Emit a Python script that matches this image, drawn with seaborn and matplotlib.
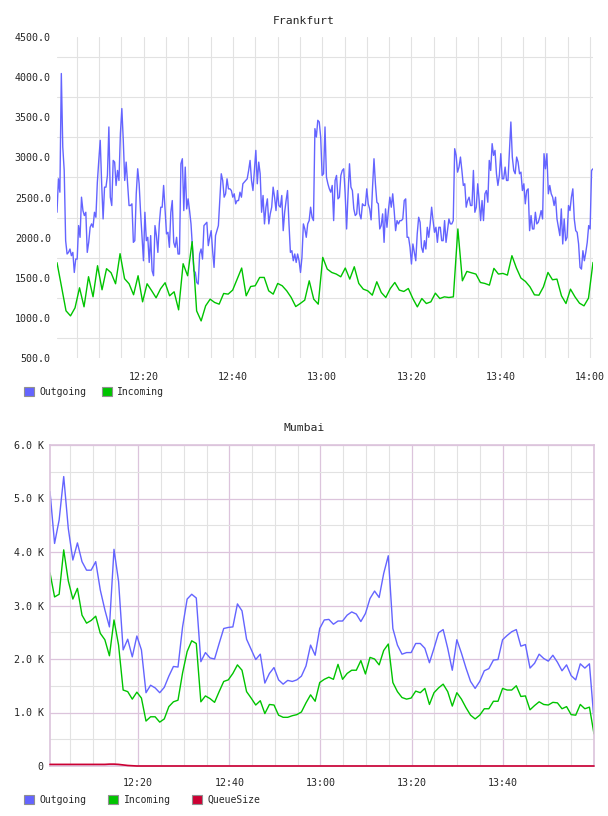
import numpy as np
import pandas as pd
import matplotlib
matplotlib.use("Agg")
import matplotlib.pyplot as plt
from matplotlib.patches import Patch
from matplotlib.ticker import FuncFormatter
import seaborn as sns

# Frankfurt traffic (bytes/s), outgoing is sampled ~every 20 s, incoming every minute
frankfurt_out = [
    2316, 2733, 2566, 4045, 3129, 2837, 1962, 1796, 1816, 1858,
    1775, 1816, 1566, 1733, 1733, 2150, 2004, 2504, 2337, 2275,
    2316, 1816, 1941, 2129, 2171, 2129, 2316, 2254, 2691, 2962,
    3212, 2671, 2233, 2629, 2629, 2775, 3379, 2504, 2400, 2962,
    2941, 2650, 2837, 2712, 3296, 3608, 3212, 2712, 2941, 2671,
    2400, 2400, 2421, 1941, 1962, 2546, 2858, 2671, 2316, 2004,
    1712, 2316, 1962, 2004, 1691, 2025, 1587, 1525, 2150, 2025,
    1816, 2171, 2379, 2379, 2650, 2358, 2046, 2066, 1879, 2316,
    2462, 1941, 1879, 2004, 1796, 1796, 2920, 2983, 2337, 2879,
    2358, 2483, 2337, 2171, 1879, 1587, 1566, 1441, 1421,
    1796, 1858, 1733, 2150, 2171, 2191, 1900, 2004, 2087, 1837,
    1629, 2025, 2087, 2150, 2462, 2796, 2712, 2504, 2546, 2733,
    2608, 2608, 2587, 2504, 2546, 2421, 2462, 2462, 2566, 2504,
    2671, 2691, 2712, 2733, 2837, 2962, 2712, 2587, 2837, 3087,
    2671, 2941, 2796, 2316, 2525, 2171, 2379, 2483, 2171, 2296,
    2379, 2629, 2504, 2337, 2587, 2400, 2379, 2525, 2087, 2316,
    2462, 2587, 2171, 1816, 1837, 1712, 1796, 1691, 1796, 1712,
    1566, 1754, 2171, 2108, 2004, 2171, 2212, 2379, 2254, 2212,
    3358, 3254, 3462, 3441,
    3254, 2775, 2796, 3379, 2754, 2671, 2608, 2566, 2650, 2212,
    2712, 2775, 2483, 2504, 2775, 2837, 2858, 2546, 2108, 2546,
    2920, 2629, 2587, 2358, 2275, 2296, 2546, 2296, 2233, 2421,
    2400, 2400, 2608, 2421, 2358, 2221, 2629, 2983, 2671, 2441,
    2421, 2108, 2150, 2296, 1941, 2358, 2129, 2337, 2504, 2379,
    2546, 2337, 2087, 2212, 2171, 2212, 2212, 2233, 2462, 2483,
    2004, 2004, 1879, 1671, 1921, 1816, 1712, 2046, 2254, 2191,
    1879, 1816, 1962, 1858, 2129, 2004, 2171, 2379, 2212, 2066,
    2129, 1941, 2129, 2129, 1962, 1962, 2212, 1941, 2087, 2233,
    2171, 2171, 2212, 3108,
    3025, 2816, 2879, 3004, 2837, 2650, 2671, 2379, 2462, 2504,
    2400, 2400, 2837, 2316, 2379, 2671, 2462, 2212, 2462, 2212,
    2546, 2587, 2441, 2962, 2837, 3171, 3025, 3087, 2796, 2650,
    2775, 3046, 2733, 2733, 2879, 2712, 2712, 3066, 3441, 3004,
    2837, 2796, 3004, 2941, 2796, 2816, 2587, 2671, 2421, 2587,
    2608, 2087, 2275, 2108, 2108, 2316, 2171, 2191, 2254, 2337,
    2233, 3046, 2858, 3046, 2546, 2650, 2546, 2504, 2400, 2504,
    2233, 2129, 2025, 2358, 1921, 2233, 1962, 2004, 2400, 2337,
    2504, 2608, 2233, 2087, 2066, 1921, 1629, 1608, 1837, 1712,
    1816, 1941, 2150, 2108, 2837, 2858,
]
frankfurt_in = [
    1688, 1390, 1088, 1025, 1125, 1375, 1138, 1513, 1263, 1650,
    1350, 1613, 1563, 1425, 1800, 1488, 1425, 1288, 1525, 1200,
    1425, 1340, 1250, 1363, 1438, 1275, 1325, 1100, 1675, 1525,
    1950, 1087, 962, 1150, 1233, 1192, 1171, 1304, 1296, 1346,
    1483, 1621, 1275, 1391, 1400, 1504, 1504, 1337, 1296, 1429,
    1400, 1337, 1254, 1141, 1179, 1221, 1462, 1233, 1171, 1754,
    1608, 1566, 1546, 1512, 1621, 1483, 1637, 1429, 1358, 1337,
    1283, 1450, 1316, 1254, 1366, 1441, 1346, 1329, 1366, 1241,
    1137, 1241, 1179, 1200, 1308, 1241, 1262, 1254, 1262, 2108,
    1462, 1579, 1562, 1546, 1441, 1429, 1408, 1617, 1546, 1554,
    1533, 1775, 1621, 1496, 1454, 1387, 1287, 1283, 1387, 1566,
    1475, 1483, 1275, 1179, 1358, 1262, 1183, 1150, 1246, 1691,
]

# Mumbai traffic, in thousands, one sample per minute
mumbai_out_k = [
    5.13, 4.16, 4.60, 5.41, 4.44, 3.85, 4.17, 3.82, 3.66, 3.66,
    3.82, 3.29, 2.92, 2.60, 4.05, 3.45, 2.17, 2.37, 2.04, 2.43,
    2.17, 1.37, 1.51, 1.46, 1.37, 1.47, 1.68, 1.86, 1.85, 2.60,
    3.12, 3.21, 3.14, 1.95, 2.12, 2.02, 2.00, 2.29, 2.57, 2.59,
    2.60, 3.03, 2.90, 2.37, 2.18, 1.99, 2.09, 1.55, 1.73, 1.84,
    1.61, 1.53, 1.60, 1.58, 1.61, 1.68, 1.87, 2.26, 2.07, 2.57,
    2.73, 2.74, 2.65, 2.71, 2.71, 2.82, 2.88, 2.84, 2.70, 2.85,
    3.13, 3.27, 3.15, 3.60, 3.93, 2.57, 2.26, 2.09, 2.12, 2.12,
    2.29, 2.29, 2.20, 1.93, 2.20, 2.49, 2.55, 2.20, 1.79, 2.36,
    2.11, 1.83, 1.58, 1.45, 1.58, 1.78, 1.82, 1.98, 1.99, 2.36,
    2.44, 2.51, 2.55, 2.24, 2.27, 1.83, 1.92, 2.09, 2.01, 1.96,
    2.07, 1.94, 1.78, 1.89, 1.69, 1.61, 1.91, 1.83, 1.91, 0.86,
]
mumbai_in_k = [
    3.61, 3.16, 3.21, 4.04, 3.46, 3.12, 3.32, 2.82, 2.67, 2.72,
    2.80, 2.48, 2.36, 2.06, 2.73, 2.26, 1.42, 1.39, 1.25, 1.38,
    1.27, 0.84, 0.92, 0.92, 0.82, 0.88, 1.11, 1.20, 1.23, 1.74,
    2.14, 2.34, 2.29, 1.20, 1.31, 1.26, 1.19, 1.39, 1.58, 1.61,
    1.73, 1.89, 1.79, 1.39, 1.27, 1.14, 1.22, 0.98, 1.15, 1.14,
    0.95, 0.91, 0.91, 0.94, 0.96, 1.01, 1.18, 1.33, 1.21, 1.56,
    1.62, 1.66, 1.62, 1.90, 1.62, 1.73, 1.79, 1.79, 1.97, 1.72,
    2.03, 2.00, 1.89, 2.16, 2.28, 1.56, 1.39, 1.28, 1.25, 1.27,
    1.40, 1.37, 1.45, 1.15, 1.37, 1.46, 1.53, 1.39, 1.12, 1.37,
    1.25, 1.09, 0.95, 0.88, 0.95, 1.07, 1.07, 1.21, 1.21, 1.45,
    1.42, 1.42, 1.50, 1.30, 1.31, 1.05, 1.13, 1.20, 1.15, 1.14,
    1.19, 1.18, 1.07, 1.11, 0.96, 0.95, 1.15, 1.07, 1.10, 0.60,
]
mumbai_queue_k = [
    0.03, 0.03, 0.03, 0.03, 0.03, 0.03, 0.03, 0.03, 0.03, 0.03,
    0.03, 0.03, 0.03, 0.035, 0.035, 0.03, 0.02, 0.01, 0.005, 0.0,
    0.0, 0.0, 0.0, 0.0, 0.0, 0.0, 0.0, 0.0, 0.0, 0.0,
    0.0, 0.0, 0.0, 0.0, 0.0, 0.0, 0.0, 0.0, 0.0, 0.0,
    0.0, 0.0, 0.0, 0.0, 0.0, 0.0, 0.0, 0.0, 0.0, 0.0,
    0.0, 0.0, 0.0, 0.0, 0.0, 0.0, 0.0, 0.0, 0.0, 0.0,
    0.0, 0.0, 0.0, 0.0, 0.0, 0.0, 0.0, 0.0, 0.0, 0.0,
    0.0, 0.0, 0.0, 0.0, 0.0, 0.0, 0.0, 0.0, 0.0, 0.0,
    0.0, 0.0, 0.0, 0.0, 0.0, 0.0, 0.0, 0.0, 0.0, 0.0,
    0.0, 0.0, 0.0, 0.0, 0.0, 0.0, 0.0, 0.0, 0.0, 0.0,
    0.0, 0.0, 0.0, 0.0, 0.0, 0.0, 0.0, 0.0, 0.0, 0.0,
    0.0, 0.0, 0.0, 0.0, 0.0, 0.0, 0.0, 0.0, 0.0, 0.0,
]

tick_times = ["12:20", "12:40", "13:00", "13:20", "13:40", "14:00"]

C_OUT = "#6464ff"
C_IN = "#00c400"
C_QUEUE = "#cc0033"
GRID = "#e2e2e2"
MAJOR = "#dcc4dc"

sns.set_style("white")
plt.rcParams['font.family'] = ['DejaVu Sans Mono']

DAY = "2024-01-01 "
def ts(s):
    return pd.Timestamp(DAY + s)

fig = plt.figure(figsize=(6.08, 8.16), dpi=100)
W, H = 608, 816

# ---------------- Frankfurt ----------------
ax1 = fig.add_axes([57 / W, 1 - 358 / H, (593 - 57) / W, (358 - 37) / H])
f_start, f_end = ts("12:00:35"), ts("14:00:40")
df_out = pd.DataFrame({"time": pd.date_range(f_start, f_end, periods=len(frankfurt_out)),
                       "value": frankfurt_out})
df_in = pd.DataFrame({"time": pd.date_range(f_start, f_end, periods=len(frankfurt_in)),
                      "value": frankfurt_in})
sns.lineplot(data=df_out, x="time", y="value", ax=ax1, color=C_OUT, linewidth=1.0)
sns.lineplot(data=df_in, x="time", y="value", ax=ax1, color=C_IN, linewidth=1.0)

ax1.set_xlim(f_start, f_end)
ax1.set_ylim(500, 4500)
ax1.set_xticks([ts(t) for t in tick_times])
ax1.set_xticklabels(tick_times)
ax1.set_xticks(pd.date_range(ts("12:05"), ts("14:00"), freq="5min"), minor=True)
ax1.set_yticks(np.arange(500, 4501, 500))
ax1.yaxis.set_major_formatter(FuncFormatter(lambda v, p: "%.1f" % v))
ax1.set_yticks(np.arange(750, 4500, 500), minor=True)
ax1.grid(axis="x", which="both", color=GRID, linewidth=0.8)
ax1.grid(axis="y", which="minor", color=GRID, linewidth=0.8)
ax1.set_axisbelow(True)
for s in ax1.spines.values():
    s.set_visible(False)
ax1.tick_params(axis="x", which="both", length=0, labelsize=7.2, pad=10)
ax1.tick_params(axis="y", which="both", length=0, labelsize=7.2, pad=4.5)
ax1.set_xlabel("")
ax1.set_ylabel("")
fig.text(0.5, 1 - 21 / H, "Frankfurt", ha="center", va="center", fontsize=8.2)

fig.legend(handles=[Patch(facecolor=C_OUT, edgecolor="#909090", linewidth=0.8),
                    Patch(facecolor=C_IN, edgecolor="#909090", linewidth=0.8)],
           labels=["Outgoing", "Incoming"], loc="center left",
           bbox_to_anchor=(24 / W, 1 - 392 / H), ncol=2, frameon=False,
           fontsize=7, handlelength=1.05, handleheight=1.05, handletextpad=0.5,
           columnspacing=1.6, borderpad=0, borderaxespad=0)

# ---------------- Mumbai ----------------
ax2 = fig.add_axes([50 / W, 1 - 766 / H, (594 - 50) / W, (766 - 445) / H])
m_start, m_end = ts("12:00:40"), ts("14:00:00")
m_times = pd.date_range(m_start, m_end, periods=len(mumbai_out_k))
df_m = pd.DataFrame({"time": m_times, "Outgoing": mumbai_out_k,
                     "Incoming": mumbai_in_k, "QueueSize": mumbai_queue_k})
sns.lineplot(data=df_m, x="time", y="Outgoing", ax=ax2, color=C_OUT, linewidth=1.0)
sns.lineplot(data=df_m, x="time", y="Incoming", ax=ax2, color=C_IN, linewidth=1.0)
sns.lineplot(data=df_m, x="time", y="QueueSize", ax=ax2, color=C_QUEUE, linewidth=1.2)
# the queue line sits on the zero line: keep it above the frame
ax2.lines[-1].set_clip_on(False)
ax2.lines[-1].set_zorder(4)

ax2.set_xlim(m_start, m_end)
ax2.set_ylim(0, 6)
ax2.set_xticks([ts(t) for t in tick_times[:-1]])
ax2.set_xticklabels(tick_times[:-1])
ax2.set_xticks(pd.date_range(ts("12:05"), ts("13:55"), freq="5min"), minor=True)
ax2.set_yticks(np.arange(0, 7, 1))
ax2.yaxis.set_major_formatter(FuncFormatter(lambda v, p: "0" if v == 0 else "%.1f K" % v))
ax2.set_yticks(np.arange(0.5, 6, 1), minor=True)
ax2.grid(which="minor", color=GRID, linewidth=0.8)
ax2.grid(which="major", color=MAJOR, linewidth=0.9)
ax2.set_axisbelow(True)
for s in ax2.spines.values():
    s.set_color(MAJOR)
    s.set_linewidth(1.2)
ax2.tick_params(axis="x", which="both", length=0, labelsize=7.2, pad=8.5)
ax2.tick_params(axis="y", which="both", length=0, labelsize=7.2, pad=4.5)
ax2.set_xlabel("")
ax2.set_ylabel("")
fig.text(0.5, 1 - 428 / H, "Mumbai", ha="center", va="center", fontsize=8.2)

fig.legend(handles=[Patch(facecolor=C_OUT, edgecolor="#909090", linewidth=0.8),
                    Patch(facecolor=C_IN, edgecolor="#909090", linewidth=0.8),
                    Patch(facecolor=C_QUEUE, edgecolor="#909090", linewidth=0.8)],
           labels=["Outgoing", "Incoming", "QueueSize"], loc="center left",
           bbox_to_anchor=(24 / W, 1 - 800 / H), ncol=3, frameon=False,
           fontsize=7, handlelength=1.05, handleheight=1.05, handletextpad=0.55,
           columnspacing=2.2, borderpad=0, borderaxespad=0)

fig.savefig("out.png", dpi=100)
